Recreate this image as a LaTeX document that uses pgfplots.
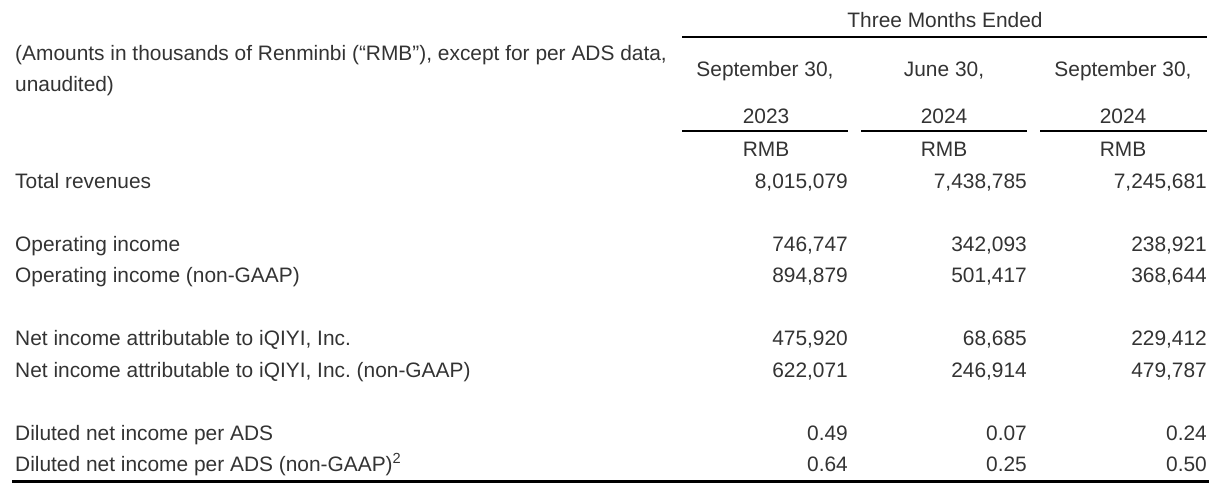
\documentclass[border=0pt]{standalone}
\usepackage{fontspec}
\setmainfont{Liberation Sans}
\usepackage{pgfplots}
\usepackage{pgfplotstable}
\pgfplotsset{compat=1.18}
\frenchspacing
\definecolor{txt}{HTML}{333333}
\newcommand\fs{\fontsize{20.9}{24}\selectfont}

% columns: right edge x (px), baseline y (px from top), value
\pgfplotstableread{
x y v
848 188 8015079
1027 188 7438785
1207 188 7245681
848 251 746747
1027 251 342093
1207 251 238921
848 282 894879
1027 282 501417
1207 282 368644
848 345 475920
1027 345 68685
1207 345 229412
848 377 622071
1027 377 246914
1207 377 479787
}\bigvals

\pgfplotstableread{
x y v
848 440 0.49
1027 440 0.07
1207 440 0.24
848 471 0.64
1027 471 0.25
1207 471 0.50
}\adsvals

\begin{document}
\begin{tikzpicture}
\begin{axis}[
  scale only axis, width=1221pt, height=491pt,
  xmin=0, xmax=1221, ymin=0, ymax=491, y dir=reverse,
  axis lines=none, clip=false,
]
\path (axis cs:0,0) rectangle (axis cs:1221,491);
\addplot[only marks, mark=text, text mark={},
  point meta=explicit symbolic,
  nodes near coords={\pgfmathprintnumber[fixed,precision=0,1000 sep={,},assume math mode=true]{\pgfplotspointmeta}},
  every node near coord/.style={anchor=base east, inner sep=0pt, font=\fs, text=txt}]
  table[x=x,y=y,meta=v] {\bigvals};
\addplot[only marks, mark=text, text mark={},
  point meta=explicit symbolic,
  nodes near coords={\pgfmathprintnumber[fixed,fixed zerofill,precision=2,assume math mode=true]{\pgfplotspointmeta}},
  every node near coord/.style={anchor=base east, inner sep=0pt, font=\fs, text=txt}]
  table[x=x,y=y,meta=v] {\adsvals};

\begin{scope}[every node/.style={inner sep=0pt, font=\fs, text=txt}]
\node[anchor=base] at (axis cs:945,27) {Three Months Ended};
\node[anchor=base west] at (axis cs:15,60) {(Amounts in thousands of Renminbi (“RMB”), except for per ADS data,};
\node[anchor=base west] at (axis cs:15,91) {unaudited)};
\node[anchor=base] at (axis cs:765,76) {September 30,};
\node[anchor=base] at (axis cs:944,76) {June 30,};
\node[anchor=base] at (axis cs:1123,76) {September 30,};
\node[anchor=base] at (axis cs:766,123) {2023};
\node[anchor=base] at (axis cs:944,123) {2024};
\node[anchor=base] at (axis cs:1123,123) {2024};
\node[anchor=base] at (axis cs:766,156) {RMB};
\node[anchor=base] at (axis cs:944,156) {RMB};
\node[anchor=base] at (axis cs:1123,156) {RMB};
\node[anchor=base west] at (axis cs:15,188) {Total revenues};
\node[anchor=base west] at (axis cs:15,251) {Operating income};
\node[anchor=base west] at (axis cs:15,282) {Operating income (non-GAAP)};
\node[anchor=base west] at (axis cs:15,345) {Net income attributable to iQIYI, Inc.};
\node[anchor=base west] at (axis cs:15,377) {Net income attributable to iQIYI, Inc. (non-GAAP)};
\node[anchor=base west] at (axis cs:15,440) {Diluted net income per ADS};
\node[anchor=base west] at (axis cs:15,471) {Diluted net income per ADS (non-GAAP)\textsuperscript{2}};
\end{scope}

\draw[line width=2pt, black] (axis cs:682,37) -- (axis cs:1207,37);
\draw[line width=2pt, black] (axis cs:682,131) -- (axis cs:848,131);
\draw[line width=2pt, black] (axis cs:861,131) -- (axis cs:1027,131);
\draw[line width=2pt, black] (axis cs:1040,131) -- (axis cs:1207,131);
\draw[line width=3pt, black] (axis cs:12,481.5) -- (axis cs:1209,481.5);
\end{axis}
\end{tikzpicture}
\end{document}
